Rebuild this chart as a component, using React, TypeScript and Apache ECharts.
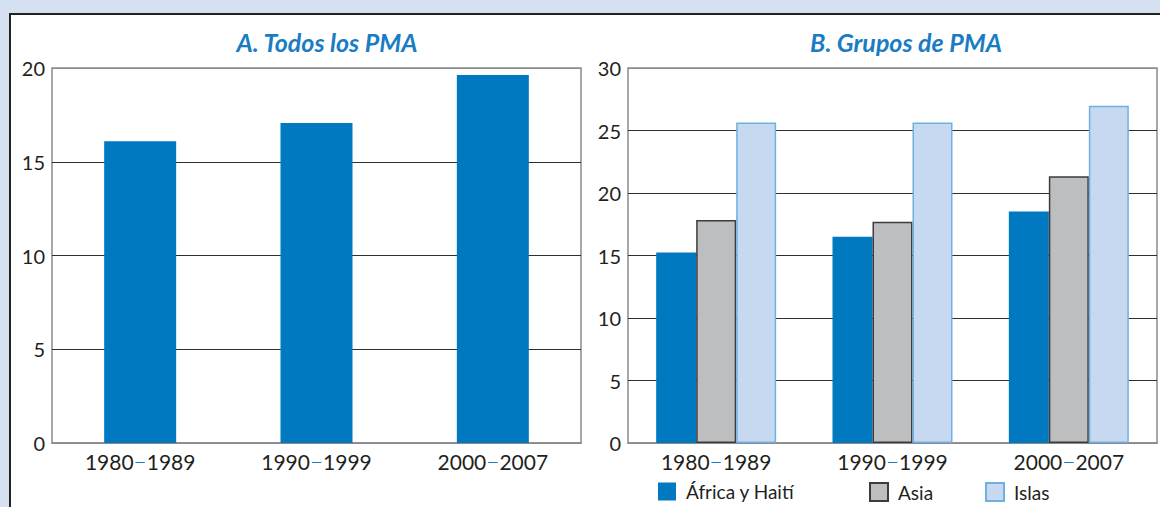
import React, { useEffect, useRef } from "react";
import * as echarts from "echarts";

const categories = ["1980–1989", "1990–1999", "2000–2007"];
const todosValues = [16.1, 17.07, 19.63];
const africaValues = [15.25, 16.5, 18.53];
const asiaValues = [17.84, 17.7, 21.34];
const islasValues = [25.64, 25.64, 26.98];
const titleA = "A. Todos los PMA";
const titleB = "B. Grupos de PMA";

const FONT = "Lato";
const TXT = "#231f20";
const BLUE = "#0079c1";
const TITLE_BLUE = "#1a7cc2";

function xAxisCfg(gridIndex: number) {
  return {
    type: "category",
    gridIndex,
    data: categories,
    axisTick: { show: false },
    axisLine: { show: true, lineStyle: { color: "#8a8a8a", width: 1.5 } },
    axisLabel: {
      interval: 0,
      hideOverlap: false,
      margin: 8,
      color: TXT,
      fontFamily: FONT,
      fontSize: 21,
      formatter: (v: string) => v.replace("–", "{d|—}"),
      rich: { d: { color: TITLE_BLUE, fontFamily: FONT, fontSize: 14, padding: [0, 1, 0, 1] } },
    },
  };
}

function yAxisCfg(gridIndex: number, max: number, n: number) {
  const colors: string[] = [];
  for (let i = 0; i <= n; i++) colors.push(i === 0 || i === n ? "#8a8a8a" : "#2e2e2e");
  return {
    type: "value",
    gridIndex,
    min: 0,
    max,
    interval: 5,
    axisLine: { show: false },
    axisTick: { show: false },
    axisLabel: { margin: 7, color: TXT, fontFamily: FONT, fontSize: 20 },
    splitLine: { show: true, lineStyle: { color: colors, width: 1.2 } },
  };
}

export default function App() {
  const ref = useRef<HTMLDivElement>(null);
  useEffect(() => {
    if (!ref.current) return;
    const chart = echarts.init(ref.current, undefined, { renderer: "svg" });
    const legendBase = {
      top: 482,
      padding: 0,
      itemWidth: 18,
      itemHeight: 18,
      icon: "rect",
      textStyle: { color: TXT, fontFamily: FONT, fontSize: 19, padding: [0, 0, 0, 5] },
    };
    const titleStyle = { color: TITLE_BLUE, fontFamily: FONT, fontStyle: "italic", fontWeight: "bold", fontSize: 25 };
    chart.setOption({
      animation: false,
      title: [
        { text: titleA, left: 322, top: 24, textAlign: "center", textStyle: titleStyle },
        { text: titleB, left: 901, top: 24, textAlign: "center", textStyle: titleStyle },
      ],
      legend: [
        { ...legendBase, left: 658, data: ["África y Haití"] },
        { ...legendBase, left: 869, data: ["Asia"] },
        { ...legendBase, left: 985, data: ["Islas"] },
      ],
      grid: [
        { left: 52, top: 68, width: 529, height: 375, show: true, borderColor: "#8a8a8a", borderWidth: 1.5, backgroundColor: "transparent" },
        { left: 628, top: 68, width: 529, height: 375, show: true, borderColor: "#8a8a8a", borderWidth: 1.5, backgroundColor: "transparent" },
      ],
      xAxis: [xAxisCfg(0), xAxisCfg(1)],
      yAxis: [yAxisCfg(0, 20, 4), yAxisCfg(1, 30, 6)],
      series: [
        {
          name: "Todos los PMA",
          type: "bar",
          xAxisIndex: 0,
          yAxisIndex: 0,
          barWidth: 72,
          data: todosValues,
          itemStyle: { color: BLUE },
        },
        {
          name: "África y Haití",
          type: "bar",
          xAxisIndex: 1,
          yAxisIndex: 1,
          barWidth: 40,
          barGap: "0%",
          data: africaValues,
          itemStyle: { color: BLUE },
        },
        {
          name: "Asia",
          type: "bar",
          xAxisIndex: 1,
          yAxisIndex: 1,
          barWidth: 40,
          barGap: "0%",
          data: asiaValues,
          itemStyle: { color: "#bdbec0", borderColor: "#3c3c3c", borderWidth: 1.5 },
        },
        {
          name: "Islas",
          type: "bar",
          xAxisIndex: 1,
          yAxisIndex: 1,
          barWidth: 40,
          barGap: "0%",
          data: islasValues,
          itemStyle: { color: "#c6d9f1", borderColor: "#6fb0e2", borderWidth: 1.5 },
        },
      ],
    });
    return () => chart.dispose();
  }, []);

  return (
    <div style={{ position: "absolute", left: 0, top: 0, width: 1160, height: 507, background: "#d5e1f1", overflow: "hidden" }}>
      <div
        style={{
          position: "absolute",
          left: 9,
          top: 13,
          right: 0,
          bottom: 0,
          background: "#ffffff",
          borderLeft: "2px solid #222",
          borderTop: "2px solid #222",
        }}
      />
      <div ref={ref} style={{ position: "absolute", left: 0, top: 0, width: 1160, height: 507 }} />
    </div>
  );
}
